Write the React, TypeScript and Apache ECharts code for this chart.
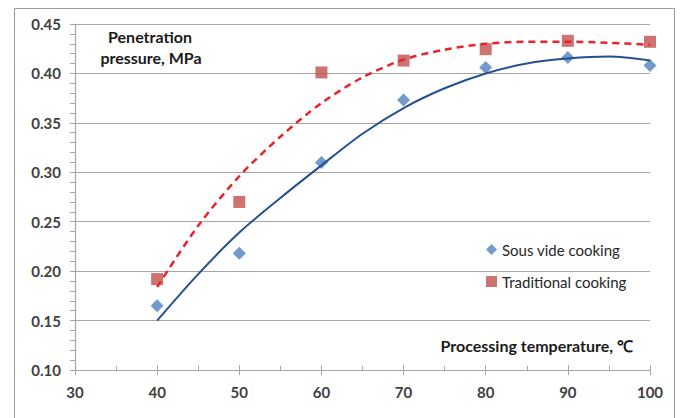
import React, { useEffect, useRef } from "react";
import * as echarts from "echarts";

const temps = [40, 50, 60, 70, 80, 90, 100];
const sousVide = [0.165, 0.218, 0.31, 0.373, 0.406, 0.416, 0.408];
const traditional = [0.192, 0.27, 0.401, 0.413, 0.4245, 0.433, 0.432];

const trendX = [40, 45, 50, 55, 60, 65, 70, 75, 80, 85, 90, 95, 100];
const sousVideTrend = [0.15, 0.197, 0.239, 0.274, 0.307, 0.339, 0.365, 0.385, 0.4, 0.41, 0.415, 0.417, 0.413];
const traditionalTrend = [0.184, 0.246, 0.296, 0.336, 0.37, 0.396, 0.414, 0.424, 0.43, 0.432, 0.432, 0.431, 0.429];

const xTicks = [30, 40, 50, 60, 70, 80, 90, 100];
const yTicks = [0.1, 0.15, 0.2, 0.25, 0.3, 0.35, 0.4, 0.45];

const FONT = "Lato, 'Open Sans', sans-serif";
const GRAY = "#A6A6A6";

export default function App() {
  const ref = useRef<HTMLDivElement>(null);
  useEffect(() => {
    if (!ref.current) return;
    const chart = echarts.init(ref.current, undefined, { renderer: "svg" });
    const pairs = (xs: number[], ys: number[]) => xs.map((x, i) => [x, ys[i]]);
    const xMin = xTicks[0];
    const xMax = xTicks[xTicks.length - 1];
    const yMin = yTicks[0];
    const yMax = yTicks[yTicks.length - 1];
    const commonX = { type: "value", min: xMin, max: xMax, interval: 10 };
    const commonY = { type: "value", min: yMin, max: yMax, interval: 0.05 };
    const titleStyle = {
      fontFamily: FONT,
      fontSize: 16,
      fontWeight: "bold",
      fill: "#1a1a1a",
      align: "center",
      verticalAlign: "middle",
    };
    chart.setOption({
      animation: false,
      backgroundColor: "#fff",
      grid: { left: 75, right: 30, top: 24, bottom: 48 },
      xAxis: [
        {
          ...commonX,
          axisLine: { show: true, lineStyle: { color: GRAY, width: 1.2 } },
          axisTick: { show: true, inside: false, length: 5, lineStyle: { color: GRAY } },
          axisLabel: {
            margin: 14,
            fontFamily: FONT,
            fontSize: 15,
            fontWeight: "bold",
            color: "#404040",
          },
          splitLine: { show: false },
        },
        {
          ...commonX,
          position: "bottom",
          axisLine: { show: false },
          axisTick: { show: true, inside: true, length: 5, lineStyle: { color: GRAY } },
          minorTick: { show: true, splitNumber: 2, length: 4, lineStyle: { color: GRAY } },
          axisLabel: { show: false },
          splitLine: { show: false },
        },
      ],
      yAxis: [
        {
          ...commonY,
          axisLine: { show: true, lineStyle: { color: GRAY, width: 1.2 } },
          axisTick: { show: true, inside: false, length: 5, lineStyle: { color: GRAY } },
          axisLabel: {
            margin: 14,
            fontFamily: FONT,
            fontSize: 15,
            fontWeight: "bold",
            color: "#404040",
            formatter: (v: number) => v.toFixed(2),
          },
          splitLine: { show: true, lineStyle: { color: GRAY, width: 1.2 } },
        },
        {
          ...commonY,
          position: "left",
          axisLine: { show: false },
          axisTick: { show: false },
          minorTick: { show: true, splitNumber: 5, length: 5, lineStyle: { color: GRAY } },
          axisLabel: { show: false },
          splitLine: { show: false },
        },
      ],
      legend: {
        orient: "vertical",
        left: 486,
        top: 242,
        itemWidth: 11,
        itemHeight: 11,
        itemGap: 17,
        padding: 0,
        textStyle: { fontFamily: FONT, fontSize: 15, color: "#262626" },
        data: [
          { name: "Sous vide cooking", icon: "diamond" },
          { name: "Traditional cooking", icon: "rect" },
        ],
      },
      graphic: [
        {
          type: "rect",
          shape: { x: 14.5, y: 8.5, width: 660, height: 420 },
          style: { fill: "none", stroke: "#9A9A9A", lineWidth: 1 },
          silent: true,
        },
        {
          type: "text",
          x: 150,
          y: 36,
          style: { ...titleStyle, text: "Penetration" },
        },
        {
          type: "text",
          x: 151,
          y: 57,
          style: { ...titleStyle, text: "pressure, MPa" },
        },
        {
          type: "text",
          x: 633,
          y: 345,
          style: { ...titleStyle, align: "right", text: "Processing temperature, ℃" },
        },
      ],
      series: [
        {
          name: "Sous vide cooking",
          type: "scatter",
          symbol: "diamond",
          symbolSize: 13,
          itemStyle: { color: "#4F81BD" },
          data: pairs(temps, sousVide),
        },
        {
          name: "Traditional cooking",
          type: "scatter",
          symbol: "rect",
          symbolSize: 12,
          itemStyle: { color: "#C0504D" },
          data: pairs(temps, traditional),
        },
        {
          name: "Sous vide trend",
          type: "line",
          smooth: 0.3,
          symbol: "none",
          lineStyle: { color: "#24508F", width: 2 },
          data: pairs(trendX, sousVideTrend),
        },
        {
          name: "Traditional trend",
          type: "line",
          smooth: 0.3,
          symbol: "none",
          lineStyle: { color: "#E8232A", width: 2.5, type: [7, 5] },
          data: pairs(trendX, traditionalTrend),
        },
      ],
    });
    return () => chart.dispose();
  }, []);
  return (
    <div
      ref={ref}
      style={{ position: "fixed", left: 0, top: 0, width: 680, height: 418, background: "#fff" }}
    />
  );
}
